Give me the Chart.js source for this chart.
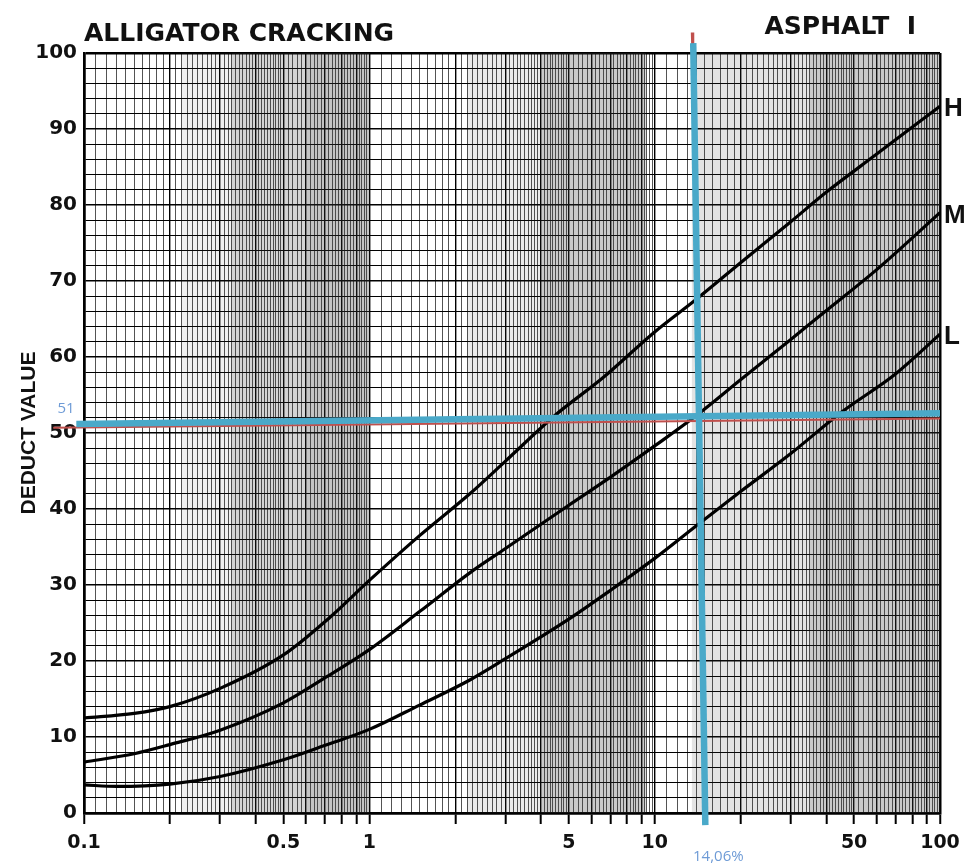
<!DOCTYPE html>
<html>
<head>
<meta charset="utf-8">
<script src="https://cdn.jsdelivr.net/npm/chart.js@4.4.0/dist/chart.umd.min.js"></script>
<style>
html, body { margin: 0; padding: 0; background: #fff; }
#wrap { position: relative; width: 977px; height: 868px; }
</style>
</head>
<body>
<div id="wrap"><canvas id="myChart" width="977" height="868"></canvas></div>
<script>
/** 曲线 H (高) */
var hX = [0.1, 0.15, 0.2, 0.3, 0.5, 0.73, 1, 1.5, 2.25, 3, 4.5, 6.6, 10, 14, 20, 30, 40, 60, 100]
var hY = [12.5, 13.1, 14, 16.4, 20.8, 25.8, 30.6, 36.5, 42, 46.3, 52.4, 57.3, 63.3, 67.6, 72.4, 77.8, 81.7, 86.7, 93]
/** 曲线 M (中) */
var mX = [0.1, 0.15, 0.2, 0.3, 0.5, 0.7, 1, 1.5, 2.25, 3, 5, 7, 10, 14, 20, 30, 39, 60, 100]
var mY = [6.7, 7.8, 9, 10.9, 14.5, 17.8, 21.5, 26.5, 31.6, 34.8, 40.5, 44.2, 48.3, 52.3, 57, 62.3, 65.8, 71.5, 79]
/** 曲线 L (低) */
var lX = [0.1, 0.13, 0.2, 0.3, 0.5, 0.7, 1, 1.5, 2.25, 3, 5, 7, 10, 14, 20, 30, 45, 70, 100]
var lY = [3.7, 3.5, 3.8, 4.8, 7, 8.9, 11, 14.2, 17.5, 20.3, 25.5, 29.3, 33.5, 37.8, 42.3, 47.3, 52.7, 57.8, 63]
var curveNames = ['H', 'M', 'L']

/** 读数标记线 */
var markX = 14.06
var markY = 51
var hLineX = [0.094, 100]
var hLineY = [51.2, 52.6]
var vLineX = [13.65, 15.05]
var vLineY = [101.3, -1.6]
var redHX = [0.078, 100]
var redHY = [50.7, 51.9]
var redVX = [13.55, 13.6]
var redVY = [102.7, 100.5]

/** 坐标轴 */
var xLabelValues = [0.1, 0.5, 1, 5, 10, 50, 100]
var xLabelTexts = ['0.1', '0.5', '1', '5', '10', '50', '100']
var yMin = 0
var yMax = 100
var yStep = 2

/** 复印件的灰色底纹 [起, 止, 透明度] */
var shadeBands = [
    [0.22, 0.33, 0.08],
    [0.33, 0.6, 0.22],
    [0.6, 1.0, 0.3],
    [2.2, 4, 0.1],
    [4, 9.3, 0.28],
    [13.5, 35, 0.14],
    [35, 100, 0.28]
]

function pts(xs, ys) {
    return xs.map(function (x, i) { return {x: x, y: ys[i]} })
}

/** 对数坐标纸的竖线 */
function buildLogGrid() {
    var out = []
    ;[0.1, 1, 10].forEach(function (d) {
        for (var k = 10; k < 50; k++) out.push(k * d / 10)
        for (var k = 25; k < 50; k++) out.push(k * 2 * d / 10)
    })
    out.push(100)
    return out
}

function ratioOf(v) {
    var d = Math.pow(10, Math.floor(Math.log10(v) + 1e-9))
    return v / d
}
function isMajorX(v) {
    var r = ratioOf(v)
    return Math.abs(r - Math.round(r)) < 1e-6
}
function near(a, b) { return Math.abs(a - b) < 1e-6 * Math.max(1, b) }

var xGrid = buildLogGrid()

var paperPlugin = {
    id: 'paperPlugin',
    beforeDraw: function (chart) {
        var ctx = chart.ctx
        ctx.save()
        ctx.fillStyle = '#fff'
        ctx.fillRect(0, 0, chart.width, chart.height)
        ctx.restore()
    },
    beforeDatasetsDraw: function (chart) {
        var ctx = chart.ctx
        var area = chart.chartArea
        var xs = chart.scales.x
        ctx.save()
        shadeBands.forEach(function (b) {
            var x0 = xs.getPixelForValue(b[0])
            var x1 = xs.getPixelForValue(b[1])
            ctx.fillStyle = 'rgba(60,60,60,' + b[2] + ')'
            ctx.fillRect(x0, area.top, x1 - x0, area.bottom - area.top)
        })
        ctx.restore()
    },
    afterDraw: function (chart) {
        var ctx = chart.ctx
        var area = chart.chartArea
        var xs = chart.scales.x
        var ys = chart.scales.y
        ctx.save()
        ctx.fillStyle = '#111'
        ctx.textBaseline = 'alphabetic'
        ctx.font = 'bold 25px "DejaVu Sans"'
        ctx.textAlign = 'left'
        ctx.fillText('ALLIGATOR CRACKING', area.left, 41)
        ctx.textAlign = 'right'
        ctx.fillText('ASPHALT  I', area.right - 24, 34)
        /** 曲线名 */
        ctx.font = 'bold 26px "Liberation Sans"'
        ctx.textAlign = 'left'
        ctx.textBaseline = 'middle'
        var lasts = [hY[hY.length - 1], mY[mY.length - 1], lY[lY.length - 1]]
        curveNames.forEach(function (n, i) {
            ctx.fillText(n, area.right + 4, ys.getPixelForValue(lasts[i]) + 3)
        })
        /** 读数 */
        ctx.fillStyle = '#6e9bd6'
        ctx.font = '15px "Open Sans"'
        ctx.textAlign = 'center'
        ctx.fillText(String(markY), area.left - 18, ys.getPixelForValue(markY) - 17)
        ctx.fillText(String(markX).replace('.', ',') + '%', xs.getPixelForValue(vLineX[1]) + 13, 857)
        ctx.restore()
    }
}

var ctx = document.getElementById('myChart').getContext('2d')
var myChart = new Chart(ctx, {
    type: 'line',
    data: {
        datasets: [
            {data: pts(vLineX, vLineY), borderColor: '#4aa9c9', borderWidth: 6.5, pointRadius: 0, clip: false, order: 0},
            {data: pts(hLineX, hLineY), borderColor: '#4aa9c9', borderWidth: 6.5, pointRadius: 0, clip: false, order: 1},
            {data: pts(redHX, redHY), borderColor: '#c0504d', borderWidth: 2, pointRadius: 0, clip: false, order: 2},
            {data: pts(redVX, redVY), borderColor: '#c0504d', borderWidth: 3, pointRadius: 0, clip: false, order: 2},
            {label: 'H', data: pts(hX, hY), borderColor: '#000', borderWidth: 3.2, pointRadius: 0, cubicInterpolationMode: 'monotone', order: 3},
            {label: 'M', data: pts(mX, mY), borderColor: '#000', borderWidth: 3.2, pointRadius: 0, cubicInterpolationMode: 'monotone', order: 3},
            {label: 'L', data: pts(lX, lY), borderColor: '#000', borderWidth: 3.2, pointRadius: 0, cubicInterpolationMode: 'monotone', order: 3}
        ]
    },
    options: {
        responsive: false,
        animation: false,
        layout: {padding: {top: 53, right: 37, bottom: 0, left: 0}},
        plugins: {legend: {display: false}, tooltip: {enabled: false}},
        scales: {
            x: {
                type: 'logarithmic',
                min: 0.1,
                max: 100,
                afterBuildTicks: function (scale) {
                    scale.ticks = xGrid.map(function (v) { return {value: v} })
                },
                afterFit: function (scale) { scale.height = 55 },
                border: {display: true, color: '#000', width: 2.5},
                grid: {
                    color: function (c) {
                        var v = c.tick.value
                        return isMajorX(v) ? '#000' : 'rgba(0,0,0,0.85)'
                    },
                    lineWidth: function (c) {
                        var v = c.tick.value
                        if (near(v, 0.1) || near(v, 100)) return 2.5
                        return isMajorX(v) ? 1.4 : 0.8
                    },
                    drawTicks: true,
                    tickLength: 11,
                    tickWidth: 2,
                    tickColor: function (c) {
                        return isMajorX(c.tick.value) ? '#000' : 'rgba(0,0,0,0)'
                    }
                },
                ticks: {
                    autoSkip: false,
                    maxRotation: 0,
                    padding: 8,
                    color: '#111',
                    font: {family: '"DejaVu Sans"', weight: 'bold', size: 19},
                    callback: function (value) {
                        for (var i = 0; i < xLabelValues.length; i++) {
                            if (near(value, xLabelValues[i])) return xLabelTexts[i]
                        }
                        return ''
                    }
                }
            },
            y: {
                min: yMin,
                max: yMax,
                afterFit: function (scale) { scale.width = 84 },
                border: {display: true, color: '#000', width: 2.5},
                grid: {
                    color: '#000',
                    lineWidth: function (c) {
                        var v = c.tick.value
                        if (v === yMin || v === yMax) return 2.5
                        return v % 10 === 0 ? 1.5 : 1
                    },
                    drawTicks: false
                },
                ticks: {
                    stepSize: yStep,
                    autoSkip: false,
                    padding: 7,
                    color: '#111',
                    font: {family: '"DejaVu Sans"', weight: 'bold', size: 20},
                    callback: function (value) { return value % 10 === 0 ? String(value) : '' }
                },
                title: {
                    display: true,
                    text: 'DEDUCT VALUE',
                    color: '#111',
                    font: {family: '"Liberation Sans"', weight: 'bold', size: 21},
                    padding: {top: 17, bottom: 0}
                }
            }
        }
    },
    plugins: [paperPlugin]
})
</script>
</body>
</html>
